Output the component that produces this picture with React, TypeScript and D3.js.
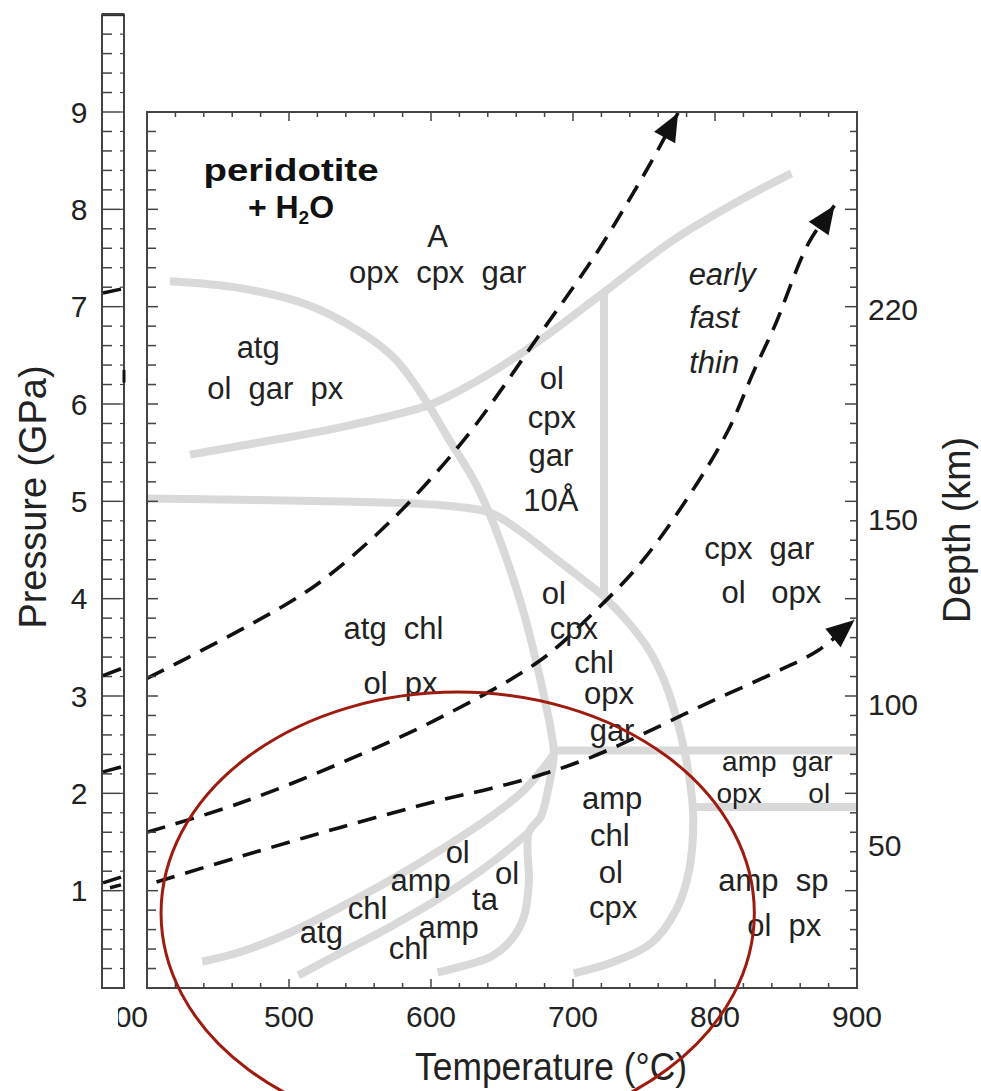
import React from 'react';
import * as d3 from 'd3';

// reference values (T in °C, P in GPa)
const tempTicks = [500, 600, 700, 800, 900];
const pressureTicks = [1, 2, 3, 4, 5, 6, 7, 8, 9];
const depthLabels = ['220', '150', '100', '50'];
const depthAtPressure = [6.97, 4.82, 2.92, 1.47];

type Pt = [number, number];

// phase boundaries (grey)
const arcA: Pt[] = [
  [416.2, 7.26], [465.6, 7.19], [512.9, 7.02], [548.2, 6.76], [573.6, 6.48],
  [594.8, 6.07], [611.7, 5.66], [630.1, 5.22], [642.1, 4.84], [654.1, 4.37],
  [665.4, 3.85], [673.8, 3.37], [680.9, 2.91], [684.4, 2.65], [686.5, 2.41],
  [683.0, 2.08], [677.3, 1.76], [668.9, 1.6], [668.9, 1.08], [665.4, 0.73],
  [656.2, 0.49], [642.1, 0.32], [620.9, 0.22], [604.7, 0.16],
];
const curveB: Pt[] = [
  [430.3, 5.48], [488.9, 5.63], [536.2, 5.76], [594.8, 5.97], [606.8, 6.04],
  [642.1, 6.32], [677.3, 6.66], [721.1, 7.14], [771.2, 7.69], [818.5, 8.1], [853.8, 8.37],
];
const lineC: Pt[] = [[721.8, 7.14], [721.8, 4.02]];
const arcD: Pt[] = [
  [400, 5.03], [488.9, 5.01], [559.5, 4.99], [606.8, 4.96], [642.1, 4.88],
  [663.2, 4.69], [684.4, 4.45], [705.6, 4.21], [721.8, 4.02], [738.7, 3.76], [753.6, 3.47],
  [764.2, 3.16], [771.2, 2.86], [778.3, 2.45], [783.2, 2.03], [784.7, 1.73],
  [781.8, 1.21], [772.6, 0.8], [755.0, 0.46], [728.9, 0.27], [700.6, 0.15],
];
const lowL1: Pt[] = [
  [438.8, 0.27], [465.6, 0.37], [500.9, 0.57], [536.2, 0.83], [571.5, 1.11],
  [606.8, 1.42], [642.1, 1.76], [665.4, 2.03], [686.5, 2.4],
];
const lowL2: Pt[] = [
  [506.6, 0.13], [536.2, 0.36], [571.5, 0.63], [606.8, 0.93], [642.1, 1.28], [668.9, 1.6],
];
const flatH1: Pt[] = [[686.5, 2.44], [900, 2.44]];
const flatH2: Pt[] = [[783.5, 1.86], [900, 1.86]];
const boundaries = [arcA, curveB, lineC, arcD, lowL1, lowL2, flatH1, flatH2];

// slab-top P–T paths (dashed)
const pathCold: Pt[] = [
  [400, 3.18], [428.2, 3.39], [474.8, 3.75], [517.1, 4.12], [559.5, 4.63],
  [594.8, 5.15], [630.1, 5.76], [677.3, 6.73], [714.8, 7.51], [740.9, 8.13],
  [757.1, 8.54], [774.0, 8.99],
];
const pathMid: Pt[] = [
  [400, 1.6], [465.6, 1.9], [536.2, 2.31], [606.8, 2.78], [677.3, 3.37],
  [712.6, 3.83], [747.9, 4.37], [783.2, 5.09], [809.3, 5.73], [827.7, 6.35],
  [842.0, 6.8], [865.8, 7.65], [884.2, 8.04],
];
const pathHot: Pt[] = [
  [400, 1.06], [465.6, 1.35], [536.2, 1.65], [606.8, 1.93], [642.1, 2.05],
  [677.3, 2.19], [712.6, 2.37], [747.9, 2.6], [795.2, 2.93], [841.8, 3.24],
  [872.8, 3.47], [898.2, 3.78],
];
const slabPaths = [pathCold, pathMid, pathHot];

// assemblage labels
const fieldLabels: { text: string; T: number; P: number; italic?: boolean; size?: number }[] = [
  { text: 'A', T: 604.7, P: 7.72 },
  { text: 'opx  cpx  gar', T: 604.7, P: 7.35 },
  { text: 'atg', T: 478.3, P: 6.58 },
  { text: 'ol  gar  px', T: 490.3, P: 6.16 },
  { text: 'ol', T: 685.1, P: 6.27 },
  { text: 'cpx', T: 685.1, P: 5.86 },
  { text: 'gar', T: 684.4, P: 5.47 },
  { text: '10Å', T: 684.4, P: 5.01 },
  { text: 'early', T: 805.1, P: 7.33, italic: true },
  { text: 'fast', T: 799.4, P: 6.89, italic: true },
  { text: 'thin', T: 799.4, P: 6.43, italic: true },
  { text: 'cpx  gar', T: 831.2, P: 4.52 },
  { text: 'ol   opx', T: 839.7, P: 4.07 },
  { text: 'atg  chl', T: 573.6, P: 3.7 },
  { text: 'ol  px', T: 578.5, P: 3.13 },
  { text: 'ol', T: 686.5, P: 4.06 },
  { text: 'cpx', T: 700.6, P: 3.7 },
  { text: 'chl', T: 714.8, P: 3.35 },
  { text: 'opx', T: 725.3, P: 3.03 },
  { text: 'gar', T: 727.5, P: 2.65 },
  { text: 'amp  gar', T: 843.9, P: 2.33, size: 28 },
  { text: 'opx      ol', T: 841.1, P: 2.0, size: 28 },
  { text: 'amp', T: 727.5, P: 1.95 },
  { text: 'chl', T: 726.0, P: 1.57 },
  { text: 'ol', T: 726.7, P: 1.19 },
  { text: 'cpx', T: 728.2, P: 0.83 },
  { text: 'amp  sp', T: 841.1, P: 1.11 },
  { text: 'ol  px', T: 848.8, P: 0.65 },
  { text: 'ol', T: 618.8, P: 1.4 },
  { text: 'amp', T: 592.7, P: 1.11 },
  { text: 'chl', T: 555.3, P: 0.82 },
  { text: 'atg', T: 522.8, P: 0.57 },
  { text: 'ol', T: 653.5, P: 1.18 },
  { text: 'ta', T: 638.0, P: 0.91 },
  { text: 'amp', T: 612.4, P: 0.63 },
  { text: 'chl', T: 584.2, P: 0.41 },
];

// dashed stubs showing in the cut-off neighbouring panel
const stripStubs: { p0: number; p1: number; f0: number }[] = [
  { p0: 7.14, p1: 7.18, f0: 0 },
  { p0: 3.21, p1: 3.28, f0: 0 },
  { p0: 2.22, p1: 2.27, f0: 0 },
  { p0: 1.08, p1: 1.14, f0: 0 },
  { p0: 1.03, p1: 1.06, f0: 0.35 },
];

// red highlight ellipse, centre and half-axes in data units
const highlight = { T: 618.8, P: 0.77, dT: 208.9, dP: 2.27 };

const FONT = '"Liberation Sans", Arial, Helvetica, sans-serif';
const INK = '#222';

export default function App() {
  const width = 981;
  const height = 1091;
  const plot = { left: 147, right: 857, top: 112, bottom: 988 };
  const strip = { left: 102, right: 124 };

  const x = d3.scaleLinear().domain([400, 900]).range([plot.left, plot.right]);
  const y = d3.scaleLinear().domain([0, 9]).range([plot.bottom, plot.top]);

  const smooth = d3.line<Pt>()
    .x(d => x(d[0]))
    .y(d => y(d[1]))
    .curve(d3.curveCatmullRom.alpha(0.5));

  const tTicks = d3.range(400, 901, 20);
  const pTicks = d3.range(0, 46).map(i => i / 5);
  const stripTicks = d3.range(0, 51).map(i => i / 5);

  const arrow = (pts: Pt[]) => {
    const a = pts[pts.length - 2];
    const b = pts[pts.length - 1];
    const ang = Math.atan2(y(b[1]) - y(a[1]), x(b[0]) - x(a[0]));
    const len = 28, half = 12;
    const tx = x(b[0]), ty = y(b[1]);
    const bx = tx - len * Math.cos(ang), by = ty - len * Math.sin(ang);
    const nx = -Math.sin(ang) * half, ny = Math.cos(ang) * half;
    return `M${tx},${ty}L${bx + nx},${by + ny}L${bx - nx},${by - ny}Z`;
  };

  const ex = x(highlight.T), ey = y(highlight.P);
  const erx = x(highlight.T + highlight.dT) - ex;
  const ery = ey - y(highlight.P + highlight.dP);

  return (
    <svg width={width} height={height} style={{ position: 'absolute', left: 0, top: 0, background: '#fff' }}
      fontFamily={FONT}>
      <defs>
        <clipPath id="plotClip">
          <rect x={plot.left} y={plot.top} width={plot.right - plot.left} height={plot.bottom - plot.top} />
        </clipPath>
        <clipPath id="cutLabel">
          <rect x={118} y={990} width={40} height={60} />
        </clipPath>
      </defs>

      {/* neighbouring panel strip */}
      <g>
        <rect x={strip.left} y={y(10)} width={strip.right - strip.left} height={plot.bottom - y(10)}
          fill="none" stroke="#444" strokeWidth={2} />
        <line x1={strip.left} x2={strip.right} y1={y(10)} y2={y(10)} stroke="#222" strokeWidth={3} />
        {stripTicks.map(p => (
          <g key={p}>
            <line x1={strip.left} x2={strip.left + (Number.isInteger(p) ? 18 : 10)} y1={y(p)} y2={y(p)}
              stroke="#444" strokeWidth={1.5} />
            <line x1={strip.right - 4} x2={strip.right} y1={y(p)} y2={y(p)} stroke="#444" strokeWidth={1.2} />
          </g>
        ))}
        {stripStubs.map((s, i) => (
          <line key={i} x1={strip.left + 1 + s.f0 * 20} x2={strip.right - 3} y1={y(s.p0)} y2={y(s.p1)}
            stroke="#111" strokeWidth={3.5} />
        ))}
        <line x1={strip.right} x2={strip.right} y1={y(6.35)} y2={y(6.22)} stroke="#111" strokeWidth={3} />
        <text x={123} y={1027} fontSize={30} textAnchor="middle" fill={INK} clipPath="url(#cutLabel)">400</text>
      </g>

      {/* phase boundaries */}
      <g clipPath="url(#plotClip)" fill="none" stroke="#d9d9d9" strokeWidth={8} strokeLinejoin="round">
        {boundaries.map((b, i) => (
          <path key={i} d={b.length === 2
            ? `M${x(b[0][0])},${y(b[0][1])}L${x(b[1][0])},${y(b[1][1])}`
            : smooth(b) ?? ''} />
        ))}
      </g>

      {/* slab paths */}
      <g>
        {slabPaths.map((p, i) => (
          <g key={i}>
            <path d={smooth(p) ?? ''} fill="none" stroke="#111" strokeWidth={3.6}
              strokeDasharray="19 11" strokeDashoffset={i === 2 ? -10 : 0} />
            <path d={arrow(p)} fill="#111" />
          </g>
        ))}
      </g>

      {/* frame and ticks */}
      <g stroke="#444" strokeWidth={1.5}>
        <rect x={plot.left} y={plot.top} width={plot.right - plot.left} height={plot.bottom - plot.top}
          fill="none" strokeWidth={2} />
        {tTicks.map(t => {
          const major = t % 100 === 0;
          const l = major ? 9 : 5;
          return (
            <g key={t}>
              <line x1={x(t)} x2={x(t)} y1={plot.bottom} y2={plot.bottom - l} />
              <line x1={x(t)} x2={x(t)} y1={plot.top} y2={plot.top + l} />
            </g>
          );
        })}
        {pTicks.map(p => {
          const major = Number.isInteger(p);
          return (
            <g key={p}>
              <line x1={plot.left} x2={plot.left + (major ? 11 : 9)} y1={y(p)} y2={y(p)} />
              <line x1={plot.right} x2={plot.right - (major ? 12 : 7)} y1={y(p)} y2={y(p)} />
            </g>
          );
        })}
      </g>

      {/* axis labels */}
      <g fontSize={30} fill={INK}>
        {pressureTicks.map(p => (
          <text key={p} x={79} y={y(p)} dy="0.36em" textAnchor="middle">{p}</text>
        ))}
        {tempTicks.map(t => (
          <text key={t} x={x(t)} y={1027} textAnchor="middle">{t}</text>
        ))}
        {depthLabels.map((d, i) => (
          <text key={d} x={868} y={y(depthAtPressure[i])} dy="0.36em">{d}</text>
        ))}
      </g>
      <text x={551} y={1080} fontSize={38} textAnchor="middle" fill={INK} textLength={272}
        lengthAdjust="spacingAndGlyphs">Temperature (°C)</text>
      <text transform="translate(46,497) rotate(-90)" fontSize={38} textAnchor="middle" fill={INK}
        textLength={263} lengthAdjust="spacingAndGlyphs">Pressure (GPa)</text>
      <text transform="translate(970,530) rotate(-90)" fontSize={38} textAnchor="middle" fill={INK}
        textLength={186} lengthAdjust="spacingAndGlyphs">Depth (km)</text>

      {/* title */}
      <g fill="#111" fontWeight="bold" textAnchor="middle">
        <text x={291} y={181} fontSize={32} textLength={175} lengthAdjust="spacingAndGlyphs">peridotite</text>
        <text x={291} y={218} fontSize={32}>
          + H<tspan fontSize={19} dy={6}>2</tspan><tspan dy={-6}>O</tspan>
        </text>
      </g>

      {/* field labels */}
      <g fill={INK} textAnchor="middle">
        {fieldLabels.map((l, i) => (
          <text key={i} x={x(l.T)} y={y(l.P)} dy="0.35em" fontSize={l.size ?? 31}
            fontStyle={l.italic ? 'italic' : 'normal'}>{l.text.replace(/ /g, '\u00A0')}</text>
        ))}
      </g>

      {/* highlight */}
      <ellipse cx={ex} cy={ey} rx={erx} ry={ery} fill="none" stroke="#9e1b0f" strokeWidth={3} />
    </svg>
  );
}
